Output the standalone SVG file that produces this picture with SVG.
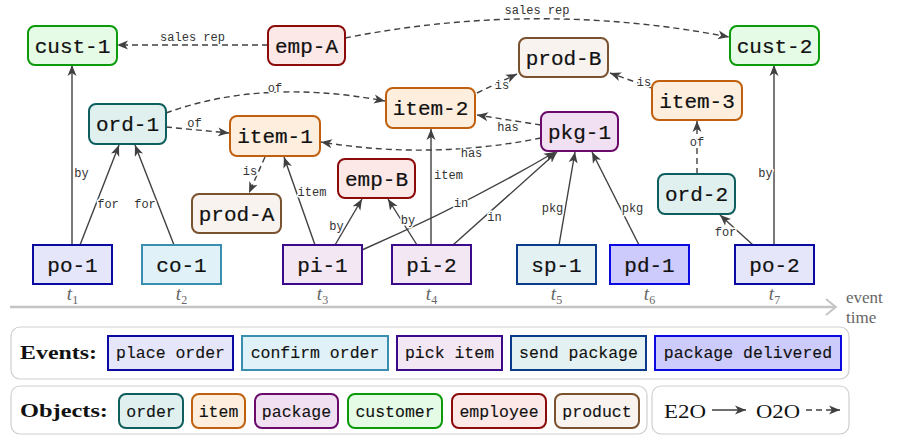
<svg xmlns="http://www.w3.org/2000/svg" width="898" height="435" viewBox="0 0 898 435">
<style>
.nt{font-family:"Liberation Mono","DejaVu Sans Mono",monospace;font-size:21px;text-anchor:middle;fill:#111;stroke:#111;stroke-width:0.2}
.lt{font-family:"Liberation Mono","DejaVu Sans Mono",monospace;font-size:16.5px;text-anchor:middle;fill:#111;stroke:#111;stroke-width:0.12}
.el{font-family:"Liberation Mono","DejaVu Sans Mono",monospace;font-size:12px;text-anchor:middle;fill:#333;stroke:#fff;stroke-width:3;paint-order:stroke;stroke-linejoin:round}
.ob{stroke-width:2}
.ev{stroke-width:2}
.e{fill:none;stroke:#404040;stroke-width:1.4;marker-end:url(#ah)}
.d{stroke-dasharray:6 4}
.tl{font-family:"Liberation Serif","DejaVu Serif",serif;font-style:italic;font-size:19px;fill:#666;text-anchor:middle}
.sub{font-style:normal;font-size:12px}
.sv{font-family:"Liberation Serif","DejaVu Serif",serif;font-size:17px;fill:#666}
.hd{font-family:"Liberation Serif","DejaVu Serif",serif;font-size:18px;font-weight:bold;fill:#111}
.cust{fill:#e6fbe6;stroke:#0a9a0a}
.emp{fill:#fde8e8;stroke:#8b0a0a}
.ord{fill:#dff0ef;stroke:#0e5e5e}
.item{fill:#fdeedd;stroke:#c0600f}
.prod{fill:#f8f3ef;stroke:#7a5230}
.pkg{fill:#f1e0f1;stroke:#6a0a6a}
.po{fill:#e6e6fb;stroke:#0a0aa0}
.co{fill:#e0f2f8;stroke:#3a8fb0}
.pi{fill:#f3e7f3;stroke:#3a0a8a}
.sp{fill:#e4f1f3;stroke:#0a3a8a}
.pd{fill:#cccbfb;stroke:#0a0ae0}
.box{fill:none;stroke:#cfcfcf;stroke-width:1.2}
</style>
<defs>
<marker id="ah" markerUnits="userSpaceOnUse" markerWidth="12" markerHeight="10" viewBox="0 0 12 10" refX="11" refY="5" orient="auto">
<path d="M0,0.5 L11,5 L0,9.5 L3,5 z" fill="#404040"/>
</marker>
</defs>

<!-- time axis -->
<g id="axis">
<line x1="10" y1="307" x2="834" y2="307" stroke="#c4c4c4" stroke-width="2.5"/>
<path d="M826,299 Q832,304 836,307 Q832,310 826,315" fill="none" stroke="#c4c4c4" stroke-width="2"/>
<text class="sv" x="846" y="303">event</text>
<text class="sv" x="846" y="323">time</text>
<text class="tl" x="72.5" y="300">t<tspan class="sub" dy="4">1</tspan></text>
<text class="tl" x="181.5" y="300">t<tspan class="sub" dy="4">2</tspan></text>
<text class="tl" x="322.5" y="300">t<tspan class="sub" dy="4">3</tspan></text>
<text class="tl" x="431.5" y="300">t<tspan class="sub" dy="4">4</tspan></text>
<text class="tl" x="556.5" y="300">t<tspan class="sub" dy="4">5</tspan></text>
<text class="tl" x="649.5" y="300">t<tspan class="sub" dy="4">6</tspan></text>
<text class="tl" x="774.5" y="300">t<tspan class="sub" dy="4">7</tspan></text>
</g>

<!-- connectors -->
<g id="connectors">
<path class="e" d="M72,245 L72,65"/>
<path class="e" d="M80,245 L119,145"/>
<path class="e" d="M174,245 L135,145"/>
<path class="e" d="M315,245 L284,157"/>
<path class="e" d="M335,245 L362,199"/>
<path class="e" d="M417,245 L388,199"/>
<path class="e" d="M431,245 L431,129"/>
<path class="e" d="M362,250 Q465,205 555,152"/>
<path class="e" d="M453,245 L557,152"/>
<path class="e" d="M559,245 L575,152"/>
<path class="e" d="M639,245 L592,152"/>
<path class="e" d="M753,245 L720,215"/>
<path class="e" d="M774,245 L774,65"/>

<path class="e d" d="M268,45 L117,45"/>
<path class="e d" d="M345,38 Q537,0 729,37"/>
<path class="e d" d="M166,113 Q262,78 385,101"/>
<path class="e d" d="M166,127 L229,133"/>
<path class="e d" d="M265,157 L249,193"/>
<path class="e d" d="M477,93 L517,74"/>
<path class="e d" d="M652,88 L610,73"/>
<path class="e d" d="M541,125 L477,115"/>
<path class="e d" d="M541,138 Q431,160 321,142"/>
<path class="e d" d="M697,174 L697,121"/>

<text class="el" x="81.5" y="177">by</text>
<text class="el" x="108" y="208">for</text>
<text class="el" x="145" y="208">for</text>
<text class="el" x="312" y="196">item</text>
<text class="el" x="336.5" y="230">by</text>
<text class="el" x="408" y="224">by</text>
<text class="el" x="448.5" y="179">item</text>
<text class="el" x="461" y="207">in</text>
<text class="el" x="494.5" y="221">in</text>
<text class="el" x="552.5" y="212">pkg</text>
<text class="el" x="632.5" y="212">pkg</text>
<text class="el" x="725.5" y="236">for</text>
<text class="el" x="765.5" y="177">by</text>
<text class="el" x="192.5" y="41">sales rep</text>
<text class="el" x="537" y="14">sales rep</text>
<text class="el" x="275" y="92">of</text>
<text class="el" x="194.5" y="127">of</text>
<text class="el" x="250" y="175">is</text>
<text class="el" x="502" y="89">is</text>
<text class="el" x="644" y="86">is</text>
<text class="el" x="508" y="131">has</text>
<text class="el" x="471.5" y="157">has</text>
<text class="el" x="697" y="146">of</text>
</g>

<!-- object nodes -->
<g id="cust-1"><rect class="ob cust" x="28" y="26" width="89" height="39" rx="7"/><text class="nt" x="72.5" y="52.5">cust-1</text></g>
<g id="emp-A"><rect class="ob emp" x="268" y="26" width="77" height="39" rx="7"/><text class="nt" x="306.5" y="52.5">emp-A</text></g>
<g id="cust-2"><rect class="ob cust" x="730" y="26" width="89" height="39" rx="7"/><text class="nt" x="774.5" y="52.5">cust-2</text></g>
<g id="prod-B"><rect class="ob prod" x="519" y="38" width="89" height="39" rx="7"/><text class="nt" x="563.5" y="64.5">prod-B</text></g>
<g id="item-3"><rect class="ob item" x="652" y="81" width="90" height="39" rx="7"/><text class="nt" x="697" y="107.5">item-3</text></g>
<g id="item-2"><rect class="ob item" x="386" y="88" width="89" height="40" rx="7"/><text class="nt" x="430.5" y="115">item-2</text></g>
<g id="pkg-1"><rect class="ob pkg" x="541" y="112" width="77" height="39" rx="7"/><text class="nt" x="579.5" y="138.5">pkg-1</text></g>
<g id="ord-1"><rect class="ob ord" x="89" y="104" width="77" height="40" rx="7"/><text class="nt" x="127.5" y="131">ord-1</text></g>
<g id="item-1"><rect class="ob item" x="230" y="116" width="90" height="40" rx="7"/><text class="nt" x="275" y="143">item-1</text></g>
<g id="emp-B"><rect class="ob emp" x="338" y="159" width="77" height="39" rx="7"/><text class="nt" x="376.5" y="185.5">emp-B</text></g>
<g id="prod-A"><rect class="ob prod" x="192" y="194" width="89" height="39" rx="7"/><text class="nt" x="236.5" y="220.5">prod-A</text></g>
<g id="ord-2"><rect class="ob ord" x="658" y="174" width="77" height="40" rx="7"/><text class="nt" x="696.5" y="201">ord-2</text></g>

<!-- event nodes -->
<g id="po-1"><rect class="ev po" x="33" y="245" width="79" height="39"/><text class="nt" x="72.5" y="271.5">po-1</text></g>
<g id="co-1"><rect class="ev co" x="142" y="245" width="79" height="39"/><text class="nt" x="181.5" y="271.5">co-1</text></g>
<g id="pi-1"><rect class="ev pi" x="283" y="245" width="79" height="39"/><text class="nt" x="322.5" y="271.5">pi-1</text></g>
<g id="pi-2"><rect class="ev pi" x="392" y="245" width="79" height="39"/><text class="nt" x="431.5" y="271.5">pi-2</text></g>
<g id="sp-1"><rect class="ev sp" x="517" y="245" width="79" height="39"/><text class="nt" x="556.5" y="271.5">sp-1</text></g>
<g id="pd-1"><rect class="ev pd" x="610" y="245" width="79" height="39"/><text class="nt" x="649.5" y="271.5">pd-1</text></g>
<g id="po-2"><rect class="ev po" x="735" y="245" width="79" height="39"/><text class="nt" x="774.5" y="271.5">po-2</text></g>

<!-- legend -->
<g id="legend-events">
<rect class="box" x="11" y="327" width="838" height="52" rx="9"/>
<text class="hd" x="20" y="359" textLength="77" lengthAdjust="spacingAndGlyphs">Events:</text>
<rect class="ev po" x="108" y="336" width="125" height="34"/><text class="lt" x="170.5" y="358">place order</text>
<rect class="ev co" x="242" y="336" width="146" height="34"/><text class="lt" x="315" y="358">confirm order</text>
<rect class="ev pi" x="397" y="336" width="105" height="34"/><text class="lt" x="449.5" y="358">pick item</text>
<rect class="ev sp" x="511" y="336" width="135" height="34"/><text class="lt" x="578.5" y="358">send package</text>
<rect class="ev pd" x="655" y="336" width="186" height="34"/><text class="lt" x="748" y="358">package delivered</text>
</g>
<g id="legend-objects">
<rect class="box" x="11" y="386" width="636" height="48" rx="9"/>
<text class="hd" x="20" y="417" textLength="88" lengthAdjust="spacingAndGlyphs">Objects:</text>
<rect class="ob ord" x="119" y="394" width="64" height="34" rx="7"/><text class="lt" x="151" y="416.5">order</text>
<rect class="ob item" x="192" y="394" width="53" height="34" rx="7"/><text class="lt" x="218.5" y="416.5">item</text>
<rect class="ob pkg" x="255" y="394" width="83" height="34" rx="7"/><text class="lt" x="296.5" y="416.5">package</text>
<rect class="ob cust" x="348" y="394" width="94" height="34" rx="7"/><text class="lt" x="395" y="416.5">customer</text>
<rect class="ob emp" x="452" y="394" width="94" height="34" rx="7"/><text class="lt" x="499" y="416.5">employee</text>
<rect class="ob prod" x="555" y="394" width="84" height="34" rx="7"/><text class="lt" x="597" y="416.5">product</text>
</g>
<g id="legend-links">
<rect class="box" x="652" y="386" width="197" height="48" rx="9"/>
<text class="hd" style="font-weight:normal;font-size:19px" x="664" y="418" textLength="42" lengthAdjust="spacingAndGlyphs">E2O</text>
<path class="e" d="M712,410 L746,410"/>
<text class="hd" style="font-weight:normal;font-size:19px" x="756" y="418" textLength="44" lengthAdjust="spacingAndGlyphs">O2O</text>
<path class="e d" d="M806,410 L840,410"/>
</g>
</svg>
